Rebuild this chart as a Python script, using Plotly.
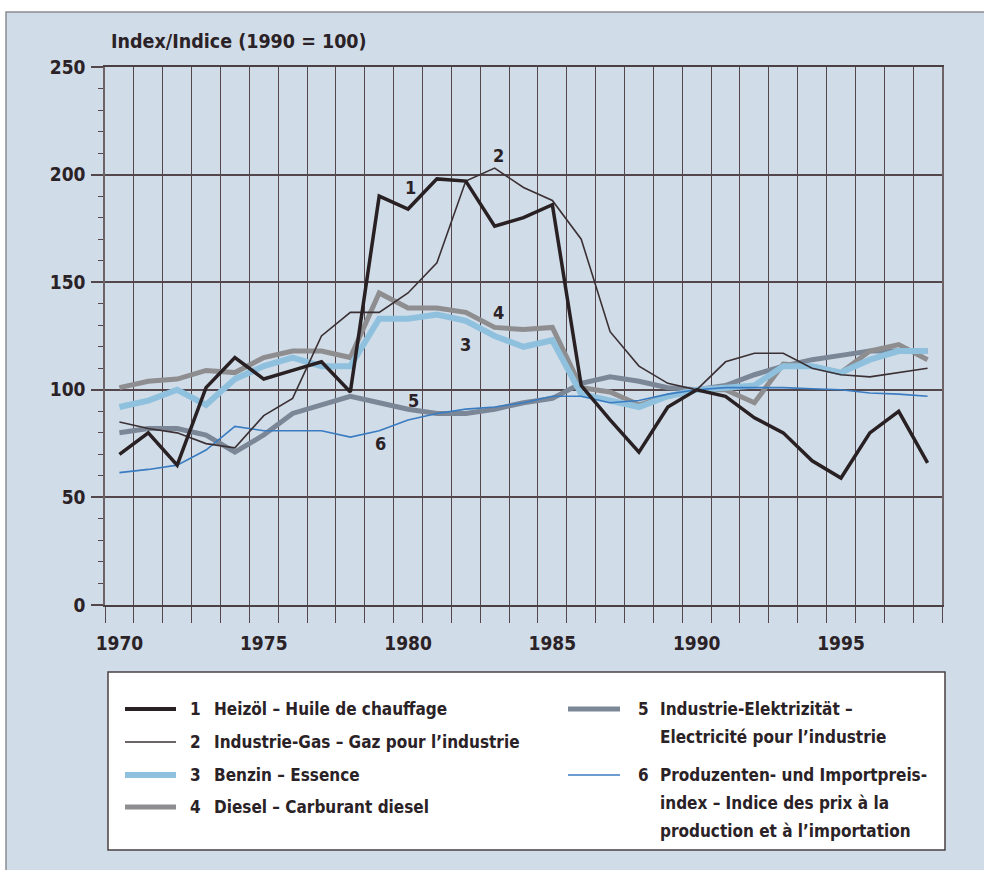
import plotly.graph_objects as go

# Jahre / années
years = list(range(1970, 1999))

# Index 1990 = 100
heizoel = [70, 80, 65, 101, 115, 105, 109, 113, 99, 190, 184, 198, 197, 176, 180,
           186, 102, 86, 71, 92, 100, 97, 87, 80, 67, 59, 80, 90, 66]
gas = [85, 82, 80, 75, 73, 88, 96, 125, 136, 136, 145, 159, 197, 203, 194,
       188, 170, 127, 111, 103, 100, 113, 117, 117, 110, 107, 106, 108, 110]
benzin = [92, 95, 100, 93, 105, 111, 115, 111, 111, 133, 133, 135, 132, 125, 120,
          123, 98, 95, 92, 97, 100, 101, 102, 111, 111, 108, 114, 118, 118]
diesel = [101, 104, 105, 109, 108, 115, 118, 118, 115, 145, 138, 138, 136, 129, 128,
          129, 101, 99, 93, 97, 100, 100, 94, 112, 111, 108, 118, 121, 114]
elektr = [80, 82, 82, 79, 71, 79, 89, 93, 97, 94, 91, 89, 89, 91, 94,
          96, 103, 106, 104, 101, 100, 102, 107, 111, 114, 116, 118, 118, 118]
ppi = [61.5, 63, 65, 72, 83, 81, 81, 81, 78, 81, 86, 89, 91, 92, 94,
       97, 97, 94, 95, 98, 100, 101, 101, 101, 100.5, 100, 98.5, 98, 97]

tick_years = [1970, 1975, 1980, 1985, 1990, 1995]

FONT = "Liberation Sans Narrow, DejaVu Sans Condensed, Arial Narrow, sans-serif"
TXT = "#2a2226"
GRID = "#54474c"
BG = "#d0dce7"
LEG_SIZE = 17

# series styles: (values, colour, width)
series = [
    (elektr, "#7b8797", 5),
    (diesel, "#8e8e90", 5),
    (benzin, "#8fc1de", 6),
    (ppi, "#3a7cc2", 1.6),
    (gas, "#3b3034", 1.6),
    (heizoel, "#282022", 3.5),
]

fig = go.Figure()
for vals, col, w in series:
    fig.add_trace(go.Scatter(x=years, y=vals, mode="lines",
                             line=dict(color=col, width=w), showlegend=False))

# number labels on the curves
num_labels = [("1", 1980.1, 194), ("2", 1983.15, 209), ("3", 1982.0, 121),
              ("4", 1983.15, 136), ("5", 1980.2, 95), ("6", 1979.05, 75)]
for t, x, y in num_labels:
    fig.add_annotation(x=x, y=y, text="<b>%s</b>" % t, showarrow=False,
                       font=dict(size=18, color=TXT, family=FONT))

# plot area sits at x=105..942, y=67..605 on the page
L, T, W, H = 105, 67, 837, 538


def px(x):
    return (x - L) / W


def py(y):
    return (T + H - y) / H


shapes = [
    dict(type="rect", xref="paper", yref="paper", layer="below",
         x0=px(6), x1=px(995), y0=py(890), y1=py(12),
         fillcolor=BG, line=dict(color="#8a8c90", width=1.5)),
    dict(type="rect", xref="paper", yref="paper", layer="below",
         x0=px(108), x1=px(945), y0=py(850), y1=py(672),
         fillcolor="white", line=dict(color="#4a4044", width=1.5)),
]

legend_left = [
    ("1", "Heizöl – Huile de chauffage", "#282022", 4, 709),
    ("2", "Industrie-Gas – Gaz pour l’industrie", "#3b3034", 1.6, 742),
    ("3", "Benzin – Essence", "#8fc1de", 6, 775),
    ("4", "Diesel – Carburant diesel", "#8e8e90", 5, 807),
]
legend_right = [
    ("5", ["Industrie-Elektrizität –", "Electricité pour l’industrie"], "#7b8797", 5, 709),
    ("6", ["Produzenten- und Importpreis-", "index – Indice des prix à la",
           "production et à l’importation"], "#3a7cc2", 1.6, 775),
]

for n, label, col, w, y in legend_left:
    shapes.append(dict(type="line", xref="paper", yref="paper",
                       x0=px(125), x1=px(176), y0=py(y), y1=py(y),
                       line=dict(color=col, width=w)))
    fig.add_annotation(x=px(195), y=py(y), xref="paper", yref="paper", text="<b>%s</b>" % n,
                       showarrow=False, xanchor="center", yanchor="middle",
                       font=dict(size=LEG_SIZE, color=TXT, family=FONT))
    fig.add_annotation(x=px(212), y=py(y), xref="paper", yref="paper", text="<b>%s</b>" % label,
                       showarrow=False, xanchor="left", yanchor="middle",
                       font=dict(size=LEG_SIZE, color=TXT, family=FONT))

for n, lines, col, w, y in legend_right:
    shapes.append(dict(type="line", xref="paper", yref="paper",
                       x0=px(568), x1=px(620), y0=py(y), y1=py(y),
                       line=dict(color=col, width=w)))
    fig.add_annotation(x=px(643), y=py(y), xref="paper", yref="paper", text="<b>%s</b>" % n,
                       showarrow=False, xanchor="center", yanchor="middle",
                       font=dict(size=LEG_SIZE, color=TXT, family=FONT))
    for i, ln in enumerate(lines):
        fig.add_annotation(x=px(658), y=py(y + i * 28), xref="paper", yref="paper",
                           text="<b>%s</b>" % ln, showarrow=False,
                           xanchor="left", yanchor="middle",
                           font=dict(size=LEG_SIZE, color=TXT, family=FONT))

# axis title at top left
fig.add_annotation(x=px(109), y=py(42), xref="paper", yref="paper",
                   text="<b>Index/Indice (1990 = 100)</b>", showarrow=False,
                   xanchor="left", yanchor="middle",
                   font=dict(size=19.5, color=TXT, family=FONT))

fig.update_layout(
    width=984, height=870,
    margin=dict(l=L, r=984 - L - W, t=T, b=870 - T - H),
    paper_bgcolor="white", plot_bgcolor="white",
    font=dict(family=FONT, color=TXT, size=19),
    shapes=shapes,
    xaxis=dict(
        range=[1969.5, 1998.5], tickmode="array", tickvals=tick_years,
        ticktext=["<b>%d</b>" % y for y in tick_years],
        ticks="outside", ticklen=16, tickcolor="rgba(0,0,0,0)", ticklabelstandoff=4,
        showgrid=False, zeroline=False,
        showline=True, mirror=True, linecolor="#4a4044", linewidth=2,
        minor=dict(tickmode="linear", tick0=1969.5, dtick=1, ticks="outside",
                   ticklen=16, tickcolor=GRID, tickwidth=1.3,
                   showgrid=True, gridcolor=GRID, gridwidth=1.3),
        fixedrange=True,
    ),
    yaxis=dict(
        range=[0, 250], tickmode="array", tickvals=[0, 50, 100, 150, 200, 250],
        ticktext=["<b>%d</b>" % v for v in [0, 50, 100, 150, 200, 250]],
        ticks="outside", ticklen=12, tickcolor=GRID, tickwidth=1.5,
        ticklabelstandoff=2,
        showgrid=True, gridcolor=GRID, gridwidth=1.5, zeroline=False,
        showline=True, mirror=True, linecolor="#6d6266", linewidth=1.5,
        minor=dict(tickmode="linear", tick0=0, dtick=10, ticks="outside",
                   ticklen=5, tickcolor=GRID, tickwidth=1.3, showgrid=False),
        fixedrange=True,
    ),
)

# drop the default page margin so the figure fills the window exactly
fig.write_html("out.html", config={"displayModeBar": False},
               post_script="document.body.style.margin='0';"
                           "document.documentElement.style.overflow='hidden';")
